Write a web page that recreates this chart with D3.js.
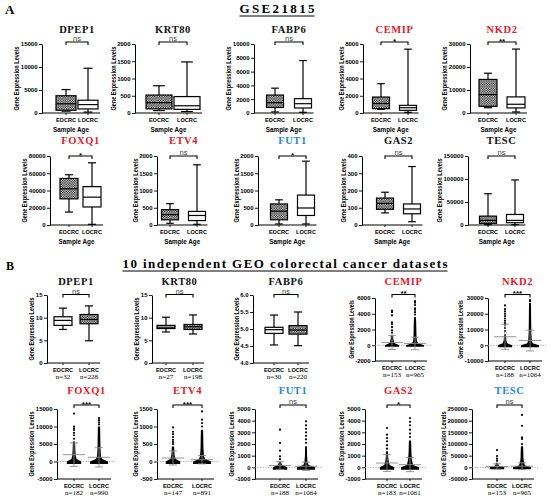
<!DOCTYPE html>
<html>
<head>
<meta charset="utf-8">
<script src="https://cdn.jsdelivr.net/npm/d3@7"></script>
<style>
body { margin: 0; background: #fff; }
svg { display: block; }
</style>
</head>
<body>
<svg id="fig" width="550" height="500"></svg>
<script>
'use strict';

// Shared categories
const groups = ['EOCRC', 'LOCRC'];
const genes = ['DPEP1', 'KRT80', 'FABP6', 'CEMIP', 'NKD2', 'FOXQ1', 'ETV4', 'FUT1', 'GAS2', 'TESC'];

// Panel A : GSE21815 box plots [min, q1, median, q3, max]
const aSig = ['ns', 'ns', 'ns', '*', '**', '*', 'ns', '*', 'ns', 'ns'];
const aTone = ['k', 'k', 'k', 'r', 'r', 'r', 'r', 'b', 'k', 'k'];
const aMax = [15000, 2000, 10000, 8000, 30000, 80000, 2000, 2000, 400, 150000];
const aStep = [5000, 500, 2000, 2000, 10000, 20000, 500, 500, 100, 50000];
const aEocrc = [
    [400, 600, 2000, 3750, 5100],
    [70, 120, 300, 520, 790],
    [150, 800, 1500, 2600, 3600],
    [420, 500, 1100, 1850, 3400],
    [2300, 2900, 8000, 14600, 17300],
    [15000, 30300, 42000, 54000, 58300],
    [50, 150, 300, 445, 620],
    [30, 150, 400, 610, 730],
    [70, 91, 125, 156, 190],
    [700, 3600, 10000, 19300, 68000]
];
const aLocrc = [
    [200, 880, 1830, 2780, 9730],
    [40, 105, 210, 476, 1480],
    [100, 725, 1350, 2080, 7600],
    [80, 310, 615, 885, 7400],
    [440, 2200, 3800, 7000, 27800],
    [800, 20900, 32300, 44500, 72100],
    [20, 128, 276, 394, 1745],
    [30, 276, 493, 867, 1850],
    [19, 65, 93, 122, 339],
    [700, 5000, 10000, 22900, 97900]
];

// Panel B : 10 GEO datasets
const bSig = ['ns', 'ns', 'ns', '**', '***', '***', '***', 'ns', '*', 'ns'];
const bTone = ['k', 'k', 'k', 'r', 'r', 'r', 'r', 'b', 'r', 'b'];
const bN = [[32, 228], [27, 198], [30, 220], [153, 965], [188, 1064], [182, 990], [147, 891], [188, 1064], [183, 1061], [153, 965]];
const bDomain = [[0, 15], [0, 15], [4, 6], [-2000, 6000], [-10000, 30000], [-5000, 15000], [-500, 1500], [-1000, 5000], [-1000, 5000], [-50000, 250000]];
const bStep = [5, 5, 0.5, 2000, 10000, 5000, 500, 1000, 1000, 50000];
const bBoxE = [[7.4, 8.3, 9.4, 10.2, 12.1], [6.85, 7.6, 7.9, 8.3, 10.1], [4.53, 4.87, 4.98, 5.05, 5.41]];
const bBoxL = [[4.9, 8.65, 9.6, 10.7, 12.6], [6.4, 7.4, 8.0, 8.5, 10.6], [4.51, 4.85, 4.97, 5.1, 5.5]];
// scatter plots (CEMIP .. TESC): mean, SD, dense core (value / relative width), sparse points
const bMean = [[360, 230], [5400, 3000], [1950, 1200], [100, 52], [150, 90], [370, 230], [3500, 5000]];
const bSd = [[900, 800], [8000, 6600], [3350, 2750], [200, 120], [330, 350], [720, 600], [11500, 14500]];
const bCoreV = [
    [[-200, 0, 250, 500, 800, 1300], [-200, 0, 250, 500, 1000, 2000, 3000, 3600]],
    [[-1200, 0, 1200, 3000, 7000], [-1200, 0, 1200, 3000, 8000, 15000, 22000, 27000]],
    [[-700, 0, 700, 1500, 3500, 5700], [-700, 0, 700, 1500, 4000, 8000, 10000]],
    [[-70, 0, 70, 150, 300, 430], [-70, 0, 70, 150, 400, 700, 910]],
    [[-200, 0, 200, 350, 510], [-200, 0, 200, 400, 1000, 1800]],
    [[-200, 0, 200, 500, 900, 1370], [-200, 0, 200, 600, 1200, 2300]],
    [[-8000, 0, 5000, 10000, 15000, 20000], [-8000, 0, 8000, 20000, 40000, 70000, 90000]]
];
const bCoreW = [
    [[0.8, 0.8, 0.3, 0.2, 0.15, 0.12], [1, 1, 0.35, 0.22, 0.17, 0.15, 0.13, 0.1]],
    [[0.8, 0.8, 0.25, 0.15, 0.1], [1, 1, 0.3, 0.2, 0.15, 0.13, 0.12, 0.1]],
    [[0.8, 0.8, 0.3, 0.2, 0.15, 0.12], [1, 1, 0.35, 0.22, 0.16, 0.14, 0.12]],
    [[0.8, 0.8, 0.3, 0.2, 0.15, 0.12], [1, 1, 0.35, 0.22, 0.16, 0.14, 0.12]],
    [[0.8, 0.8, 0.25, 0.15, 0.1], [1, 1, 0.3, 0.18, 0.12, 0.1]],
    [[0.8, 0.8, 0.3, 0.2, 0.13, 0.1], [1, 1, 0.35, 0.22, 0.16, 0.12]],
    [[0.8, 0.8, 0.3, 0.18, 0.13, 0.1], [1, 1, 0.35, 0.22, 0.16, 0.14, 0.12]]
];
const bDots = [
    [[1600, 1900, 2300, 2700, 2900, 3800, 4200, 4400], [3900, 4200, 4500, 4700, 5100, 5400, 5600]],
    [[9000, 11000, 13000, 14000, 15500, 17000, 18500, 20000, 21500, 23000, 25300], [28000, 28600]],
    [[6500, 7500, 8200, 9000, 9500, 10000, 13700], [10600, 11200, 11800, 12400]],
    [[500, 560, 620, 700, 780, 850, 975], [1000, 1100, 1195, 1430]],
    [[700, 940, 1430, 2090, 3230], [2100, 2400, 2700, 3000, 3300, 3600, 3940]],
    [[1600, 1900, 2230, 2510, 2800, 3370], [2600, 2900, 3230, 3600, 3900, 4230]],
    [[28000, 37000, 48600, 74000], [100000, 121800, 128900, 178000, 224600]]
];

// Layout
const aLeft = [42, 135, 254, 363, 470, 50, 157, 258, 362, 468];
const aCx = [[24, 46], [24, 52], [21, 49], [18, 45], [18, 46], [19, 42], [13, 40], [21, 48], [23, 50], [20, 47]];
const aBw = [20, 26, 17, 17, 18, 18, 17, 17, 17, 17];
const aRows = [{top: 44, bottom: 113, titleY: 33, brY: 42}, {top: 156, bottom: 225, titleY: 144, brY: 156}];
const bLeft = [47, 152, 253, 375, 488, 57, 157, 255, 365, 472];
const bCx = [[16, 42], [14, 41], [21, 45], [17, 40], [17, 42], [17, 42], [16, 45], [25, 51], [22, 45], [25, 50]];
const bRows = [{top: 295, bottom: 363, titleY: 285, brY: 294.5}, {top: 409, bottom: 479, titleY: 394, brY: 405}];

const serif = '"Liberation Serif", "Times New Roman", serif';
const sans = '"Liberation Sans", Arial, sans-serif';
const tones = {k: '#111', r: '#e3202a', b: '#2389d4'};

const svg = d3.select('#fig');

// Checker fill for hatched boxes
const pat = svg.append('defs').append('pattern')
    .attr('id', 'check')
    .attr('width', 2.4).attr('height', 2.4)
    .attr('patternUnits', 'userSpaceOnUse');
pat.append('rect').attr('width', 2.4).attr('height', 2.4).attr('fill', '#fff');
pat.append('rect').attr('width', 1.2).attr('height', 1.2).attr('fill', '#000');
pat.append('rect').attr('x', 1.2).attr('y', 1.2).attr('width', 1.2).attr('height', 1.2).attr('fill', '#000');

// Panel headings
function heading(txt, x, y, size, anchor, len) {
    const t = svg.append('text')
        .attr('x', x).attr('y', y)
        .attr('text-anchor', anchor)
        .style('font', `bold ${size}px ${serif}`)
        .text(txt);
    if (len) {
        t.attr('textLength', len).attr('lengthAdjust', 'spacing');
        svg.append('line')
            .attr('x1', x - len / 2).attr('x2', x + len / 2)
            .attr('y1', y + 3).attr('y2', y + 3)
            .attr('stroke', '#000').attr('stroke-width', 1);
    }
}
heading('A', 5, 14, 13, 'start');
heading('GSE21815', 277, 13, 13, 'middle', 75);
heading('B', 6, 270, 12, 'start');
heading('10 independent GEO colorectal cancer datasets', 285, 268, 13, 'middle', 325);

const intFmt = (d) => String(Math.round(d));
const decFmt = (d) => d.toFixed(1);

/*
 Function :: plot()  -- axes, titles, bracket
 */
function plot(o) {

    const g = svg.append('g').attr('transform', `translate(${o.left},0)`);
    const y = d3.scaleLinear().domain(o.domain).range([o.bottom, o.top]);
    const x = d3.scalePoint().domain(groups).range(o.cx);

    // Y axis
    const ticks = d3.range(o.domain[0], o.domain[1] + o.step / 2, o.step);
    const ax = g.append('g')
        .call(d3.axisLeft(y).tickValues(ticks).tickSize(3).tickSizeOuter(0).tickPadding(1.5).tickFormat(o.fmt))
        .attr('font-family', sans)
        .attr('font-size', 6)
        .attr('font-weight', 'bold');
    ax.select('.domain').attr('stroke-width', 1);
    ax.selectAll('.tick line').attr('stroke-width', 0.9);

    const bb = ax.node().getBBox();
    const h = o.bottom - o.top;
    g.append('text')
        .attr('transform', `translate(${bb.x - 1.5},${(o.top + o.bottom) / 2}) rotate(-90)`)
        .attr('text-anchor', 'middle')
        .attr('textLength', h * 0.93)
        .attr('lengthAdjust', 'spacingAndGlyphs')
        .style('font', `bold 7px ${sans}`)
        .text('Gene Expression Levels');

    // X axis
    g.append('line')
        .attr('x1', 0).attr('x2', o.width)
        .attr('y1', o.bottom).attr('y2', o.bottom)
        .attr('stroke', '#000').attr('stroke-width', 1);
    g.selectAll('.xtick')
        .data(groups)
        .enter()
        .append('line')
            .attr('x1', (d) => x(d)).attr('x2', (d) => x(d))
            .attr('y1', o.bottom).attr('y2', o.bottom + 2)
            .attr('stroke', '#000').attr('stroke-width', 0.9);
    g.selectAll('.xlab')
        .data(groups)
        .enter()
        .append('text')
            .attr('x', (d) => x(d))
            .attr('y', o.bottom + 8.5)
            .attr('text-anchor', 'middle')
            .style('font', `bold 5.6px ${sans}`)
            .text((d) => d);

    // Title
    const mid = (o.cx[0] + o.cx[1]) / 2;
    g.append('text')
        .attr('x', mid).attr('y', o.titleY)
        .attr('text-anchor', 'middle')
        .attr('fill', tones[o.tone])
        .style('font', `bold 10.5px ${serif}`)
        .style('letter-spacing', '0.6px')
        .text(o.title);

    // Significance bracket
    g.append('path')
        .attr('d', `M${x('EOCRC')},${o.brY + 3}V${o.brY}H${x('LOCRC')}V${o.brY + 3}`)
        .attr('fill', 'none').attr('stroke', '#000').attr('stroke-width', 1.1);
    const star = o.sig !== 'ns';
    g.append('text')
        .attr('x', mid)
        .attr('y', star ? o.brY + 1.6 : o.brY - 1)
        .attr('text-anchor', 'middle')
        .attr('fill', star ? '#000' : '#444')
        .style('font', star ? `bold 8px ${sans}` : `7.5px ${sans}`)
        .text(o.sig);

    return {g: g, x: x, y: y};
}

/*
 Function :: drawBox()
 */
function drawBox(p, key, st, bw, fill) {

    const cx = p.x(key);
    const cap = bw * 0.45;
    const b = p.g.append('g').attr('stroke', '#000').attr('stroke-width', 1.2);
    b.append('line').attr('x1', cx).attr('x2', cx).attr('y1', p.y(st[0])).attr('y2', p.y(st[4]));
    b.append('line').attr('x1', cx - cap / 2).attr('x2', cx + cap / 2).attr('y1', p.y(st[0])).attr('y2', p.y(st[0]));
    b.append('line').attr('x1', cx - cap / 2).attr('x2', cx + cap / 2).attr('y1', p.y(st[4])).attr('y2', p.y(st[4]));
    b.append('rect')
        .attr('x', cx - bw / 2).attr('width', bw)
        .attr('y', p.y(st[3])).attr('height', p.y(st[1]) - p.y(st[3]))
        .attr('fill', fill);
    b.append('line').attr('x1', cx - bw / 2).attr('x2', cx + bw / 2).attr('y1', p.y(st[2])).attr('y2', p.y(st[2]));
}

/*
 Function :: drawScatter()
 */
function drawScatter(p, k, width) {

    // zero reference
    p.g.append('line')
        .attr('x1', 0).attr('x2', width + 4)
        .attr('y1', p.y(0)).attr('y2', p.y(0))
        .attr('stroke', '#999').attr('stroke-width', 0.8)
        .attr('stroke-dasharray', '1.3,1.3');

    groups.forEach((key, j) => {
        const cx = p.x(key);
        const half = 9;
        const core = bCoreV[k][j].map((v, i) => ({v: v, w: bCoreW[k][j][i]}));
        const area = d3.area()
            .y((d) => p.y(d.v))
            .x0((d) => cx - d.w * half)
            .x1((d) => cx + d.w * half);
        p.g.append('path').attr('d', area(core)).attr('fill', '#000');
        p.g.selectAll(null)
            .data(bDots[k][j])
            .enter()
            .append('circle')
                .attr('cx', cx)
                .attr('cy', (d) => p.y(d))
                .attr('r', 1.1)
                .attr('fill', '#000');

        // mean +/- SD
        const m = bMean[k][j];
        const s = bSd[k][j];
        const e = p.g.append('g').attr('stroke', '#8a8a8a').attr('stroke-width', 0.9);
        e.append('line').attr('x1', cx - 11).attr('x2', cx + 11).attr('y1', p.y(m)).attr('y2', p.y(m));
        e.append('line').attr('x1', cx).attr('x2', cx).attr('y1', p.y(m - s)).attr('y2', p.y(m + s));
        e.append('line').attr('x1', cx - 4).attr('x2', cx + 4).attr('y1', p.y(m - s)).attr('y2', p.y(m - s));
        e.append('line').attr('x1', cx - 4).attr('x2', cx + 4).attr('y1', p.y(m + s)).attr('y2', p.y(m + s));
    });
}

// Panel A
genes.forEach((gene, i) => {
    const row = aRows[i < 5 ? 0 : 1];
    const width = aCx[i][1] + aBw[i] / 2 + 2;
    const p = plot({
        left: aLeft[i], top: row.top, bottom: row.bottom,
        titleY: row.titleY, brY: row.brY,
        cx: aCx[i], width: width,
        domain: [0, aMax[i]], step: aStep[i], fmt: intFmt,
        title: gene, tone: aTone[i], sig: aSig[i]
    });
    drawBox(p, 'EOCRC', aEocrc[i], aBw[i], 'url(#check)');
    drawBox(p, 'LOCRC', aLocrc[i], aBw[i], '#fff');
    p.g.append('text')
        .attr('x', width / 2)
        .attr('y', row.bottom + 19)
        .attr('text-anchor', 'middle')
        .style('font', `bold 6.3px ${sans}`)
        .text('Sample Age');
});

// Panel B
genes.forEach((gene, i) => {
    const row = bRows[i < 5 ? 0 : 1];
    const scatter = i >= 3;
    const top = (scatter && i < 5) ? 298 : row.top;
    const bottom = (scatter && i < 5) ? 361 : row.bottom;
    const width = bCx[i][1] + (scatter ? 12 : 11);
    const p = plot({
        left: bLeft[i], top: top, bottom: bottom,
        titleY: row.titleY, brY: row.brY,
        cx: bCx[i], width: width,
        domain: bDomain[i], step: bStep[i], fmt: i === 2 ? decFmt : intFmt,
        title: gene, tone: bTone[i], sig: bSig[i]
    });
    if (scatter) {
        drawScatter(p, i - 3, width);
    } else {
        drawBox(p, 'EOCRC', bBoxE[i], 18, '#fff');
        drawBox(p, 'LOCRC', bBoxL[i], 18, 'url(#check)');
    }
    p.g.selectAll('.nlab')
        .data(groups)
        .enter()
        .append('text')
            .attr('x', (d) => p.x(d))
            .attr('y', bottom + 15.5)
            .attr('text-anchor', 'middle')
            .style('font', `7px ${serif}`)
            .text((d, j) => `n=${bN[i][j]}`);
});
</script>
</body>
</html>
